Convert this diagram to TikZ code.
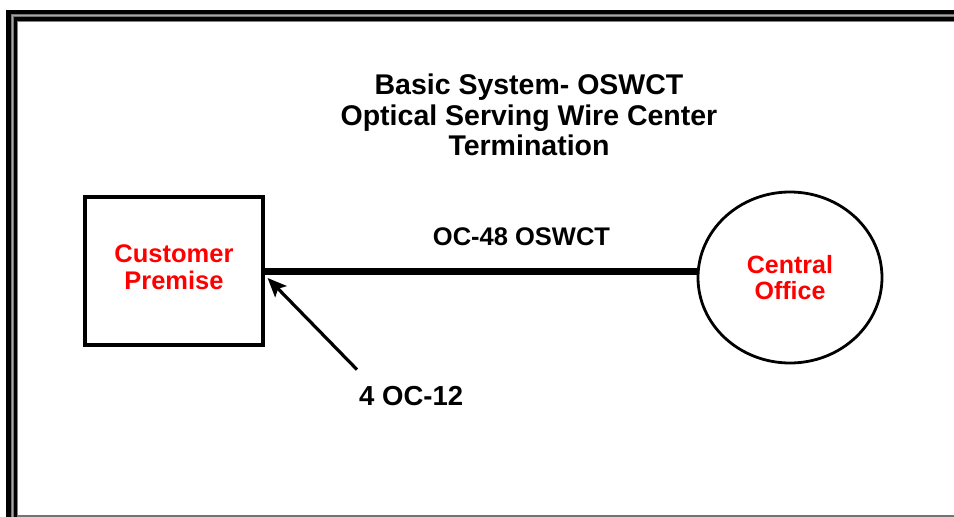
\documentclass[tikz,border=0pt]{standalone}
\usepackage{fontspec}
\setmainfont{Liberation Sans}
\usetikzlibrary{shapes.geometric,arrows.meta}

\begin{document}
\begin{tikzpicture}[x=1pt,y=-1pt,font=\bfseries,
  site box/.style={draw=black,line width=3.2pt,rectangle,minimum width=178pt,minimum height=148pt,inner sep=0pt,text=red,align=center,text depth=7.5pt,font=\bfseries\fontsize{25.5}{27}\selectfont},
  site oval/.style={draw=black,line width=2.8pt,ellipse,minimum width=184pt,minimum height=171pt,inner sep=0pt,text=red,align=center,font=\bfseries\fontsize{25}{26}\selectfont},
  title text/.style={inner sep=0pt,align=center,font=\bfseries\fontsize{28.5}{30.5}\selectfont},
  link label/.style={inner sep=0pt,font=\bfseries\fontsize{25.5}{28}\selectfont},
  trunk/.style={line width=7pt},
  feed/.style={line width=3.2pt,-{Stealth[length=19pt,width=16pt,inset=4pt]}}]
\useasboundingbox (0,0) rectangle (954,517);
\fill[white] (0,0) rectangle (954,517);
\fill[black] (6,10) rectangle (954,21);
\fill[black] (6,10) rectangle (17,517);
\draw[black!55,line width=2.5pt] (12.5,517) -- (12.5,15.5) -- (954,15.5);
\draw[black!35,line width=0.8pt] (12.5,517) -- (12.5,15.5) -- (954,15.5);
\draw[black!50,line width=1pt] (17.5,517) -- (17.5,21.5) -- (954,21.5);
\draw[black!55,line width=2pt] (17,515.5) -- (954,515.5);
\node[title text,anchor=north] (diagram-title) at (529,74) {Basic System- OSWCT\\Optical Serving Wire Center\\Termination};
\node[site box] (customer-premise) at (174,271) {Customer\\Premise};
\node[site oval] (central-office) at (790,277.5) {Central\\Office};
\draw[trunk] (customer-premise.east) -- (customer-premise.east -| central-office.west);
\node[link label,anchor=base] (trunk-label) at (521.5,245) {OC-48 OSWCT};
\node[link label,anchor=base west,font=\bfseries\fontsize{27.5}{30}\selectfont] (tap-label) at (359,405) {4 OC-12};
\coordinate (tap-point) at ([shift={(3pt,-7pt)}]customer-premise.east);
\draw[feed] ([shift={(-2pt,16pt)}]tap-label.north west) -- (tap-point);
\end{tikzpicture}
\end{document}
